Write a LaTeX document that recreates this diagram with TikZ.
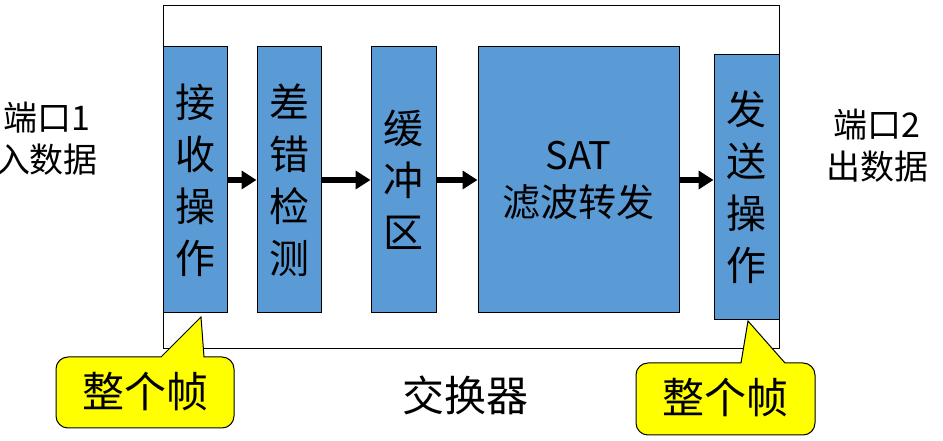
\documentclass[tikz,border=0pt]{standalone}
\usepackage{fontspec}
\newfontfamily\cjk{Noto Sans CJK SC}
\usetikzlibrary{arrows.meta}
\definecolor{boxblue}{HTML}{5B9BD5}
\definecolor{calloutyellow}{HTML}{FFFF00}
\tikzstyle{unit} = [rectangle, draw=black, line width=1pt, fill=boxblue, inner sep=0pt, align=center, font=\cjk\fontsize{40}{52}\selectfont]
\tikzstyle{label} = [align=center, inner sep=0pt, font=\cjk\fontsize{34}{42}\selectfont]
\tikzstyle{big} = [inner sep=0pt, font=\cjk\fontsize{42}{48}\selectfont]
\tikzstyle{callout} = [draw=black, line width=1pt, fill=calloutyellow]
\tikzstyle{arrow} = [line width=5.5pt, -{Triangle[length=15pt,width=18pt]}]

\begin{document}
\begin{tikzpicture}[x=1pt, y=1pt]
        \useasboundingbox (0,0) rectangle (943,441);
        \node (switch) [draw=black, line width=1pt, minimum width=616pt, minimum height=343pt, inner sep=0pt] at (471,263.5) {};
        \node (recv) [unit, minimum width=64pt, minimum height=266pt] at (195,261) {接\\收\\操\\作};
        \node (check) [unit, minimum width=64pt, minimum height=266pt] at (289,261) {差\\错\\检\\测};
        \node (buf) [unit, minimum width=65pt, minimum height=266pt] at (403.5,261) {缓\\冲\\区};
        \node (sat) [unit, minimum width=201pt, minimum height=266pt, font=\cjk\fontsize{38}{47}\selectfont] at (578.5,261) {SAT\\滤波转发};
        \node (send) [unit, minimum width=65pt, minimum height=265pt] at (746.5,253.5) {发\\送\\操\\作};
        \node (in) [label] at (47,302) {端口1\\入数据};
        \node (out) [label] at (877,295) {端口2\\出数据};
        \node (name) [big] at (465,46) {交换器};
        \draw [arrow] (recv) -- (check);
        \draw [arrow] (check) -- (buf);
        \draw [arrow] (buf) -- (sat);
        \draw [arrow] (sat.east) -- (sat.east -| send.west);
        % callouts
        \coordinate (tipin) at (201,124);
        \coordinate (tipout) at (748,120);
        \filldraw [callout] (204,84) -- (222,84) arc[start angle=90, end angle=0, radius=12] -- (234,25)
            arc[start angle=0, end angle=-90, radius=12] -- (68,13) arc[start angle=270, end angle=180, radius=12]
            -- (56,72) arc[start angle=180, end angle=90, radius=12] -- (161,84) -- (tipin) -- cycle;
        \filldraw [callout] (785,78) -- (803,78) arc[start angle=90, end angle=0, radius=12] -- (815,18)
            arc[start angle=0, end angle=-90, radius=12] -- (648,6) arc[start angle=270, end angle=180, radius=12]
            -- (636,66) arc[start angle=180, end angle=90, radius=12] -- (741,78) -- (tipout) -- cycle;
        \node (framein) [big] at (145,49) {整个帧};
        \node (frameout) [big] at (725,43) {整个帧};
    \end{tikzpicture}
\end{document}
